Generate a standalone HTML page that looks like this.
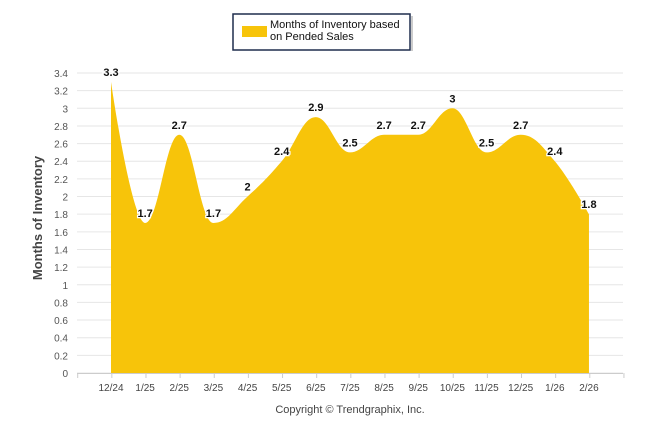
<!DOCTYPE html>
<html><head><meta charset="utf-8"><style>
body{margin:0;background:#fff;width:646px;height:434px;overflow:hidden}
svg text{font-family:"Liberation Sans",sans-serif}
</style></head><body>
<svg id="c" width="646" height="434" xmlns="http://www.w3.org/2000/svg">
<rect x="233" y="14" width="177" height="36" fill="#fff" stroke="#1f2d4d" stroke-width="1.5"/>
<rect x="411" y="16" width="2" height="35" fill="#999" opacity="0.5"/>
<rect x="242" y="26" width="25" height="11" fill="#f7c40a"/>
<text x="270" y="28" font-size="11" fill="#111">Months of Inventory based</text>
<text x="270" y="40" font-size="11" fill="#111">on Pended Sales</text>
<g id="grid"></g>
<path id="area" fill="#f7c40a"/>
<g id="lbl"></g>
<text transform="translate(42,218) rotate(-90)" text-anchor="middle" font-size="13" font-weight="bold" fill="#444">Months of Inventory</text>
<text x="350" y="413" text-anchor="middle" font-size="11" fill="#444">Copyright © Trendgraphix, Inc.</text>
</svg>
<script>
var NS="http://www.w3.org/2000/svg";
function el(p,t,a,tx){var e=document.createElementNS(NS,t);for(var k in a)e.setAttribute(k,a[k]);if(tx!=null)e.textContent=tx;document.getElementById(p).appendChild(e);}
var y0=373,sc=300/3.4;
for(var i=0;i<=17;i++){var v=i*0.2,y=y0-v*sc;
 el("grid","line",{x1:77,x2:623,y1:y,y2:y,stroke:"#e6e6e6","stroke-width":1});
 el("grid","text",{x:68,y:y+4,"text-anchor":"end","font-size":"10",fill:"#555"},(Math.round(v*10)/10).toString());}
var labs=["12/24","1/25","2/25","3/25","4/25","5/25","6/25","7/25","8/25","9/25","10/25","11/25","12/25","1/26","2/26"];
var vals=[3.3,1.7,2.7,1.7,2,2.4,2.9,2.5,2.7,2.7,3,2.5,2.7,2.4,1.8];
for(var i=0;i<=16;i++){var x=77.7+34.14*i;el("grid","line",{x1:x,x2:x,y1:y0,y2:y0+5,stroke:"#ccc"});}
el("grid","line",{x1:77,x2:623,y1:y0+0.5,y2:y0+0.5,stroke:"#ccc"});
var P=vals.map(function(v,i){return[111+34.14*i,y0-v*sc]});
labs.forEach(function(l,i){el("grid","text",{x:P[i][0],y:391,"text-anchor":"middle","font-size":"10",fill:"#444"},l)});
var d="M"+P[0][0]+","+y0+" L"+P[0][0]+","+P[0][1];
var sm=1.5,dn=sm+1;
function cont(i){var p=P[i-1],c=P[i],n=P[i+1];
 var lx=(sm*c[0]+p[0])/dn,ly=(sm*c[1]+p[1])/dn,rx=(sm*c[0]+n[0])/dn,ry=(sm*c[1]+n[1])/dn;
 var cr=((ry-ly)*(rx-c[0]))/(rx-lx)+c[1]-ry;ly+=cr;ry+=cr;
 if(ly>p[1]&&ly>c[1]){ly=Math.max(p[1],c[1]);ry=2*c[1]-ly}else if(ly<p[1]&&ly<c[1]){ly=Math.min(p[1],c[1]);ry=2*c[1]-ly}
 if(ry>n[1]&&ry>c[1]){ry=Math.max(n[1],c[1]);ly=2*c[1]-ry}else if(ry<n[1]&&ry<c[1]){ry=Math.min(n[1],c[1]);ly=2*c[1]-ry}
 return[lx,ly,rx,ry];}
var C=[];for(var i=1;i<P.length-1;i++)C[i]=cont(i);
for(var i=1;i<P.length;i++){var a=P[i-1],b=P[i];
 var c1=i-1>0?[C[i-1][2],C[i-1][3]]:a, c2=i<P.length-1?[C[i][0],C[i][1]]:b;
 d+=" C"+c1[0]+","+c1[1]+" "+c2[0]+","+c2[1]+" "+b[0]+","+b[1];}
d+=" L"+P[P.length-1][0]+","+y0+" Z";
document.getElementById("area").setAttribute("d",d);
vals.forEach(function(v,i){el("lbl","text",{x:P[i][0],y:P[i][1]-6,"text-anchor":"middle","font-size":"11","font-weight":"bold",fill:"#111",stroke:"#fff","stroke-width":"2.5","paint-order":"stroke"},v.toString())});
</script>
</body></html>
